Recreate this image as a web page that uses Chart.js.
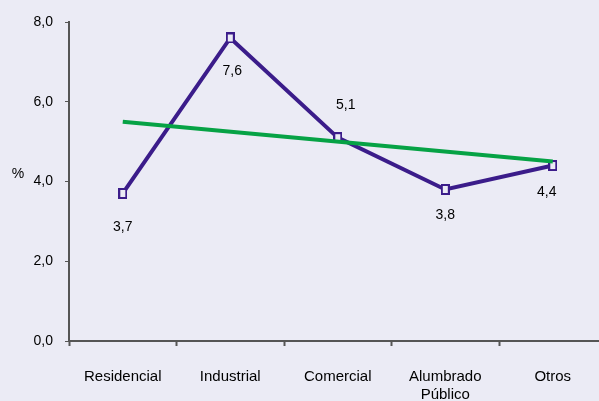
<!DOCTYPE html>
<html>
<head>
<meta charset="utf-8">
<script src="https://cdn.jsdelivr.net/npm/chart.js@4/dist/chart.umd.min.js"></script>
<style>
  html, body { margin: 0; padding: 0; background: #EBEBF5; overflow: hidden; }
  #wrap { width: 599px; height: 401px; }
</style>
</head>
<body>
<div id="wrap"><canvas id="chart"></canvas></div>
<script>
// categories and values (%)
const categories = ['Residencial', 'Industrial', 'Comercial', ['Alumbrado', 'Público'], 'Otros'];
const values = [3.7, 7.6, 5.1, 3.8, 4.4];
// trend line end points
const trendStart = 5.5;
const trendEnd = 4.5;
const yTicks = [0, 2, 4, 6, 8];

const BG = '#EBEBF5';
const PURPLE = '#3B1C8A';
const GREEN = '#06A245';
const AXIS = '#555555';
const FONT = "'Liberation Sans', Arial, sans-serif";

const fmt = v => v.toFixed(1).replace('.', ',');

// hollow rectangular marker
function makeMarker() {
    const c = document.createElement('canvas');
    c.width = 9;
    c.height = 11;
    const g = c.getContext('2d');
    g.fillStyle = BG;
    g.fillRect(1, 1, 7, 9);
    g.strokeStyle = PURPLE;
    g.lineWidth = 2;
    g.strokeRect(1, 1, 7, 9);
    return c;
}

// value labels around each point, plus the unrotated "%" axis title
const labelOffsets = [[0, 34], [2, 33], [8, -32], [0, 26], [-6, 27]];
const extras = {
    id: 'extras',
    afterDatasetsDraw(chart) {
        const ctx = chart.ctx;
        const meta = chart.getDatasetMeta(1);
        ctx.save();
        ctx.font = '14px ' + FONT;
        ctx.fillStyle = '#000';
        ctx.textAlign = 'center';
        ctx.textBaseline = 'middle';
        meta.data.forEach((pt, i) => {
            const [dx, dy] = labelOffsets[i];
            ctx.fillText(fmt(values[i]), pt.x + dx, pt.y + dy);
        });
        ctx.fillText('%', 18, chart.scales.y.getPixelForValue(4) - 7);
        ctx.restore();
    }
};

const xTickValues = [-0.5, 0, 0.5, 1, 1.5, 2, 2.5, 3, 3.5, 4];

new Chart(document.getElementById('chart'), {
    type: 'line',
    data: {
        datasets: [
            {
                label: 'Tendencia',
                data: [{ x: 0, y: trendStart }, { x: 4, y: trendEnd }],
                borderColor: GREEN,
                borderWidth: 4,
                pointRadius: 0,
                order: 0,
            },
            {
                label: 'Variación',
                data: values.map((v, i) => ({ x: i, y: v })),
                borderColor: PURPLE,
                borderWidth: 4,
                pointStyle: makeMarker(),
                pointRadius: 5,
                order: 1,
            }
        ]
    },
    options: {
        responsive: true,
        maintainAspectRatio: false,
        animation: false,
        layout: {
            autoPadding: false,
            padding: { top: 22, right: 0, bottom: 0, left: 0 }
        },
        plugins: {
            legend: { display: false },
            tooltip: { enabled: false },
        },
        scales: {
            x: {
                type: 'linear',
                min: -0.5,
                max: 4.43,
                afterBuildTicks: scale => {
                    scale.ticks = xTickValues.map(v => ({ value: v }));
                },
                afterFit: scale => {
                    // axis runs all the way to the right edge
                    scale.height = 60;
                    scale.paddingLeft = 0;
                    scale.paddingRight = 0;
                },
                border: { color: AXIS, width: 2 },
                grid: {
                    drawOnChartArea: false,
                    tickLength: 5,
                    tickWidth: 2,
                    tickColor: c => Number.isInteger(c.tick.value) ? 'rgba(0,0,0,0)' : AXIS,
                },
                ticks: {
                    autoSkip: false,
                    maxRotation: 0,
                    padding: 22,
                    color: '#000',
                    font: { family: FONT, size: 15 },
                    callback: v => Number.isInteger(v) ? categories[v] : '',
                },
            },
            y: {
                min: 0,
                max: 8,
                afterBuildTicks: scale => {
                    scale.ticks = yTicks.map(v => ({ value: v }));
                },
                afterFit: scale => { scale.width = 69; },
                border: { color: AXIS, width: 2 },
                grid: {
                    drawOnChartArea: false,
                    tickLength: 4,
                    tickColor: AXIS,
                },
                ticks: {
                    padding: 12,
                    color: '#000',
                    font: { family: FONT, size: 14 },
                    callback: v => fmt(v),
                },
            },
        },
    },
    plugins: [extras],
});
</script>
</body>
</html>
